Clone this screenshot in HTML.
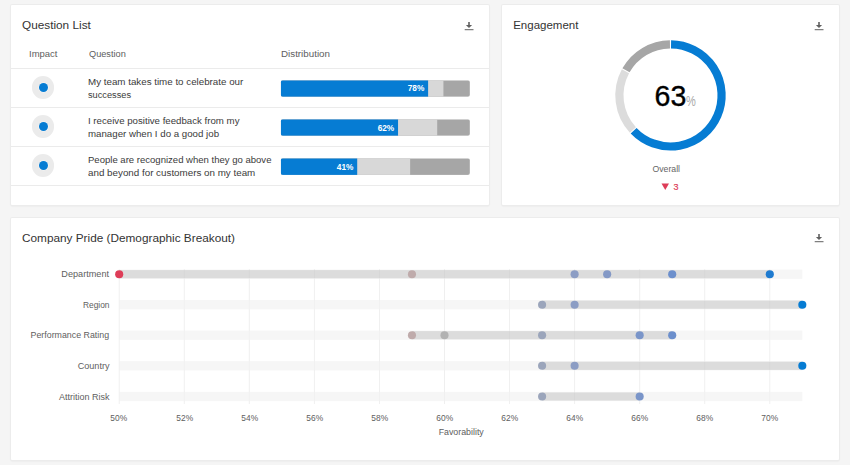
<!DOCTYPE html>
<html><head><meta charset="utf-8"><title>Dashboard</title>
<style>
html,body{margin:0;padding:0;}
body{width:850px;height:465px;overflow:hidden;background:#f5f5f5;font-family:"Liberation Sans",sans-serif;color:#404040;position:relative;}
.card{position:absolute;background:#fff;box-shadow:0 0 0 1px #ececec,0 1px 2px rgba(0,0,0,.10);border-radius:1px;}
.t{position:absolute;white-space:nowrap;line-height:1;}
.sep{position:absolute;left:11px;width:478px;height:1px;background:#ebebeb;}
.bar{position:absolute;left:280.8px;width:188.4px;height:16.4px;border-radius:2px;overflow:hidden;background:#a6a6a6;}
.bar div{position:absolute;top:0;bottom:0;left:0;}
.bar .l{background:#d8d8d8;}
.bar .b{background:#067cd3;}
.imp{position:absolute;width:22.6px;height:22.6px;border-radius:50%;background:#ebebeb;}
.imp div{position:absolute;left:6.9px;top:6.8px;width:9px;height:9px;border-radius:50%;background:#067cd3;box-shadow:0 0 0 0.6px rgba(255,255,255,.7);}
</style></head><body>

<div class="card" style="left:11px;top:5px;width:478px;height:200.3px"></div>
<div class="card" style="left:502px;top:5px;width:337px;height:200.3px"></div>
<div class="card" style="left:11px;top:218px;width:828px;height:241.5px"></div>
<svg style="position:absolute;left:464px;top:21px" width="10" height="10" viewBox="0 0 10 10"><path d="M4.2 0.9h1.6v3h2.3L5 7 1.9 3.9h2.3z" fill="#606060"/><rect x="0.7" y="8.2" width="8.8" height="1" fill="#606060"/></svg>
<svg style="position:absolute;left:814px;top:21px" width="10" height="10" viewBox="0 0 10 10"><path d="M4.2 0.9h1.6v3h2.3L5 7 1.9 3.9h2.3z" fill="#606060"/><rect x="0.7" y="8.2" width="8.8" height="1" fill="#606060"/></svg>
<svg style="position:absolute;left:814px;top:233px" width="10" height="10" viewBox="0 0 10 10"><path d="M4.2 0.9h1.6v3h2.3L5 7 1.9 3.9h2.3z" fill="#606060"/><rect x="0.7" y="8.2" width="8.8" height="1" fill="#606060"/></svg>
<div class="t" style="left:22.20px;top:20.00px;font-size:11.5px;color:#333;transform:scaleX(1.0250);transform-origin:0 0;">Question List</div>
<div class="t" style="left:513.20px;top:20.00px;font-size:11.5px;color:#333;">Engagement</div>
<div class="t" style="left:22.10px;top:233.00px;font-size:11.5px;color:#333;transform:scaleX(1.0253);transform-origin:0 0;">Company Pride (Demographic Breakout)</div>
<div class="t" style="left:29.20px;top:49.00px;font-size:9.6px;color:#5e5e5e;transform:scaleX(0.9892);transform-origin:0 0;">Impact</div>
<div class="t" style="left:89.00px;top:49.00px;font-size:9.6px;color:#5e5e5e;transform:scaleX(0.9577);transform-origin:0 0;">Question</div>
<div class="t" style="left:281.00px;top:49.00px;font-size:9.6px;color:#5e5e5e;transform:scaleX(1.0204);transform-origin:0 0;">Distribution</div>
<div class="sep" style="top:68px"></div>
<div class="sep" style="top:107px"></div>
<div class="sep" style="top:146px"></div>
<div class="sep" style="top:185px"></div>
<svg style="position:absolute;left:0;top:0" width="850" height="210"><defs>
<clipPath id="bc0"><rect x="280.8" y="80.3" width="189.1" height="16.55" rx="2" ry="2"/></clipPath>
<clipPath id="bc1"><rect x="280.8" y="119.3" width="189.1" height="16.55" rx="2" ry="2"/></clipPath>
<clipPath id="bc2"><rect x="280.8" y="158.35" width="189.1" height="16.55" rx="2" ry="2"/></clipPath>
</defs>
<g clip-path="url(#bc0)"><rect x="280.8" y="80.3" width="189.1" height="16.55" fill="#a6a6a6"/><rect x="280.8" y="80.3" width="162.63" height="16.55" fill="#d8d8d8"/><rect x="280.8" y="80.3" width="147.31" height="16.55" fill="#067cd3"/></g>
<g clip-path="url(#bc1)"><rect x="280.8" y="119.3" width="189.1" height="16.55" fill="#a6a6a6"/><rect x="280.8" y="119.3" width="156.39" height="16.55" fill="#d8d8d8"/><rect x="280.8" y="119.3" width="117.24" height="16.55" fill="#067cd3"/></g>
<g clip-path="url(#bc2)"><rect x="280.8" y="158.35" width="189.1" height="16.55" fill="#a6a6a6"/><rect x="280.8" y="158.35" width="129.34" height="16.55" fill="#d8d8d8"/><rect x="280.8" y="158.35" width="76.40" height="16.55" fill="#067cd3"/></g>
</svg>
<div class="imp" style="left:31.9px;top:76.30px"><div></div></div>
<div class="t" style="left:87.90px;top:78.00px;font-size:9.2px;color:#3a3a3a;transform:scaleX(1.0633);transform-origin:0 0;">My team takes time to celebrate our</div>
<div class="t" style="left:87.90px;top:91.00px;font-size:9.2px;color:#3a3a3a;transform:scaleX(1.0035);transform-origin:0 0;">successes</div>
<div class="t" style="left:407.70px;top:84.00px;font-size:8.3px;color:#fff;font-weight:bold;">78%</div>
<div class="imp" style="left:31.9px;top:115.40px"><div></div></div>
<div class="t" style="left:87.90px;top:117.00px;font-size:9.2px;color:#3a3a3a;transform:scaleX(1.0521);transform-origin:0 0;">I receive positive feedback from my</div>
<div class="t" style="left:87.90px;top:130.00px;font-size:9.2px;color:#3a3a3a;transform:scaleX(1.0556);transform-origin:0 0;">manager when I do a good job</div>
<div class="t" style="left:377.63px;top:124.00px;font-size:8.3px;color:#fff;font-weight:bold;">62%</div>
<div class="imp" style="left:31.9px;top:154.40px"><div></div></div>
<div class="t" style="left:87.90px;top:156.00px;font-size:9.2px;color:#3a3a3a;transform:scaleX(1.0380);transform-origin:0 0;">People are recognized when they go above</div>
<div class="t" style="left:87.90px;top:169.00px;font-size:9.2px;color:#3a3a3a;transform:scaleX(1.0669);transform-origin:0 0;">and beyond for customers on my team</div>
<div class="t" style="left:336.78px;top:163.00px;font-size:8.3px;color:#fff;font-weight:bold;">41%</div>
<svg style="position:absolute;left:0;top:0" width="850" height="210">
<path d="M671.04 44.30A51.1 51.1 0 1 1 633.62 130.77" stroke="#067cd3" stroke-width="8.2" fill="none"/>
<path d="M632.89 129.99A51.1 51.1 0 0 1 625.47 71.25" stroke="#dcdcdc" stroke-width="8.2" fill="none"/>
<path d="M625.98 70.31A51.1 51.1 0 0 1 669.96 44.30" stroke="#a6a6a6" stroke-width="8.2" fill="none"/>
</svg>
<div class="t" style="left:654.4px;top:82.2px;font-size:28.6px;color:#000;letter-spacing:0.2px;-webkit-text-stroke:0.35px #000">63</div>
<div class="t" style="left:686.3px;top:95px;font-size:13.8px;color:#aaa;transform:scaleX(.8);transform-origin:0 0">%</div>
<div class="t" style="left:651.65px;top:165.00px;font-size:9px;color:#666;transform:scaleX(0.9681);transform-origin:50% 0;">Overall</div>
<svg style="position:absolute;left:661px;top:183px" width="9" height="8" viewBox="0 0 9 8"><path d="M0.5 0.5h7.5L4.25 7z" fill="#de3d58"/></svg>
<div class="t" style="left:673.5px;top:183px;font-size:9px;color:#de3d58;-webkit-text-stroke:0.2px #de3d58">3</div>
<svg style="position:absolute;left:0;top:210px" width="850" height="255">
<rect x="118.70" y="59" width="1" height="135" fill="#f5f5f5"/>
<rect x="183.76" y="59" width="1" height="135" fill="#f5f5f5"/>
<rect x="248.82" y="59" width="1" height="135" fill="#f5f5f5"/>
<rect x="313.88" y="59" width="1" height="135" fill="#f5f5f5"/>
<rect x="378.94" y="59" width="1" height="135" fill="#f5f5f5"/>
<rect x="444.00" y="59" width="1" height="135" fill="#f5f5f5"/>
<rect x="509.06" y="59" width="1" height="135" fill="#f5f5f5"/>
<rect x="574.12" y="59" width="1" height="135" fill="#f5f5f5"/>
<rect x="639.18" y="59" width="1" height="135" fill="#f5f5f5"/>
<rect x="704.24" y="59" width="1" height="135" fill="#f5f5f5"/>
<rect x="769.30" y="59" width="1" height="135" fill="#f5f5f5"/>
<rect x="119.20" y="59.60" width="683.13" height="9.2" fill="#f6f6f6"/>
<rect x="119.20" y="60.10" width="650.60" height="8.2" fill="#dcdcdc"/>
<rect x="119.20" y="90.10" width="683.13" height="9.2" fill="#f6f6f6"/>
<rect x="542.09" y="90.60" width="260.24" height="8.2" fill="#dcdcdc"/>
<rect x="119.20" y="120.60" width="683.13" height="9.2" fill="#f6f6f6"/>
<rect x="411.97" y="121.10" width="260.24" height="8.2" fill="#dcdcdc"/>
<rect x="119.20" y="151.20" width="683.13" height="9.2" fill="#f6f6f6"/>
<rect x="542.09" y="151.70" width="260.24" height="8.2" fill="#dcdcdc"/>
<rect x="119.20" y="181.90" width="683.13" height="9.2" fill="#f6f6f6"/>
<rect x="542.09" y="182.40" width="97.59" height="8.2" fill="#dcdcdc"/>
<rect x="118.70" y="59" width="1" height="135" fill="#000" fill-opacity="0.022"/>
<rect x="183.76" y="59" width="1" height="135" fill="#000" fill-opacity="0.022"/>
<rect x="248.82" y="59" width="1" height="135" fill="#000" fill-opacity="0.022"/>
<rect x="313.88" y="59" width="1" height="135" fill="#000" fill-opacity="0.022"/>
<rect x="378.94" y="59" width="1" height="135" fill="#000" fill-opacity="0.022"/>
<rect x="444.00" y="59" width="1" height="135" fill="#000" fill-opacity="0.022"/>
<rect x="509.06" y="59" width="1" height="135" fill="#000" fill-opacity="0.022"/>
<rect x="574.12" y="59" width="1" height="135" fill="#000" fill-opacity="0.022"/>
<rect x="639.18" y="59" width="1" height="135" fill="#000" fill-opacity="0.022"/>
<rect x="704.24" y="59" width="1" height="135" fill="#000" fill-opacity="0.022"/>
<rect x="769.30" y="59" width="1" height="135" fill="#000" fill-opacity="0.022"/>
<circle cx="119.20" cy="64.20" r="4.05" fill="#de3d58"/>
<circle cx="411.97" cy="64.20" r="4.05" fill="#bfabab"/>
<circle cx="574.62" cy="64.20" r="4.05" fill="#8c9dc4"/>
<circle cx="607.15" cy="64.20" r="4.05" fill="#8499c6"/>
<circle cx="672.21" cy="64.20" r="4.05" fill="#6c8fcc"/>
<circle cx="769.80" cy="64.20" r="4.05" fill="#1f7bd0"/>
<circle cx="542.09" cy="94.70" r="4.05" fill="#9ba5bb"/>
<circle cx="574.62" cy="94.70" r="4.05" fill="#8c9dc4"/>
<circle cx="802.33" cy="94.70" r="4.05" fill="#067cd3"/>
<circle cx="411.97" cy="125.20" r="4.05" fill="#bfabab"/>
<circle cx="444.50" cy="125.20" r="4.05" fill="#b2b2b2"/>
<circle cx="542.09" cy="125.20" r="4.05" fill="#9ba5bb"/>
<circle cx="639.68" cy="125.20" r="4.05" fill="#7a95c9"/>
<circle cx="672.21" cy="125.20" r="4.05" fill="#6c8fcc"/>
<circle cx="542.09" cy="155.80" r="4.05" fill="#9ba5bb"/>
<circle cx="574.62" cy="155.80" r="4.05" fill="#8c9dc4"/>
<circle cx="802.33" cy="155.80" r="4.05" fill="#067cd3"/>
<circle cx="542.09" cy="186.50" r="4.05" fill="#9ba5bb"/>
<circle cx="639.68" cy="186.50" r="4.05" fill="#7a95c9"/>
</svg>
<div class="t" style="left:62.48px;top:270.00px;font-size:9px;color:#606060;transform:scaleX(1.0144);transform-origin:100% 0;">Department</div>
<div class="t" style="left:80.98px;top:301.00px;font-size:9px;color:#606060;transform:scaleX(0.9291);transform-origin:100% 0;">Region</div>
<div class="t" style="left:29.46px;top:331.00px;font-size:9px;color:#606060;transform:scaleX(0.9808);transform-origin:100% 0;">Performance Rating</div>
<div class="t" style="left:77.99px;top:362.00px;font-size:9px;color:#606060;transform:scaleX(1.0091);transform-origin:100% 0;">Country</div>
<div class="t" style="left:58.99px;top:393.00px;font-size:9px;color:#606060;">Attrition Risk</div>
<div class="t" style="left:110.49px;top:414.00px;font-size:8.7px;color:#606060;transform:scaleX(0.9648);transform-origin:50% 0;">50%</div>
<div class="t" style="left:175.55px;top:414.00px;font-size:8.7px;color:#606060;transform:scaleX(0.9648);transform-origin:50% 0;">52%</div>
<div class="t" style="left:240.61px;top:414.00px;font-size:8.7px;color:#606060;transform:scaleX(0.9648);transform-origin:50% 0;">54%</div>
<div class="t" style="left:305.67px;top:414.00px;font-size:8.7px;color:#606060;transform:scaleX(0.9648);transform-origin:50% 0;">56%</div>
<div class="t" style="left:370.73px;top:414.00px;font-size:8.7px;color:#606060;transform:scaleX(0.9648);transform-origin:50% 0;">58%</div>
<div class="t" style="left:435.79px;top:414.00px;font-size:8.7px;color:#606060;transform:scaleX(0.9648);transform-origin:50% 0;">60%</div>
<div class="t" style="left:500.85px;top:414.00px;font-size:8.7px;color:#606060;transform:scaleX(0.9648);transform-origin:50% 0;">62%</div>
<div class="t" style="left:565.91px;top:414.00px;font-size:8.7px;color:#606060;transform:scaleX(0.9648);transform-origin:50% 0;">64%</div>
<div class="t" style="left:630.97px;top:414.00px;font-size:8.7px;color:#606060;transform:scaleX(0.9648);transform-origin:50% 0;">66%</div>
<div class="t" style="left:696.03px;top:414.00px;font-size:8.7px;color:#606060;transform:scaleX(0.9648);transform-origin:50% 0;">68%</div>
<div class="t" style="left:761.09px;top:414.00px;font-size:8.7px;color:#606060;transform:scaleX(0.9648);transform-origin:50% 0;">70%</div>
<div class="t" style="left:438.86px;top:428.00px;font-size:8.7px;color:#606060;transform:scaleX(1.0161);transform-origin:50% 0;">Favorability</div>
</body></html>
